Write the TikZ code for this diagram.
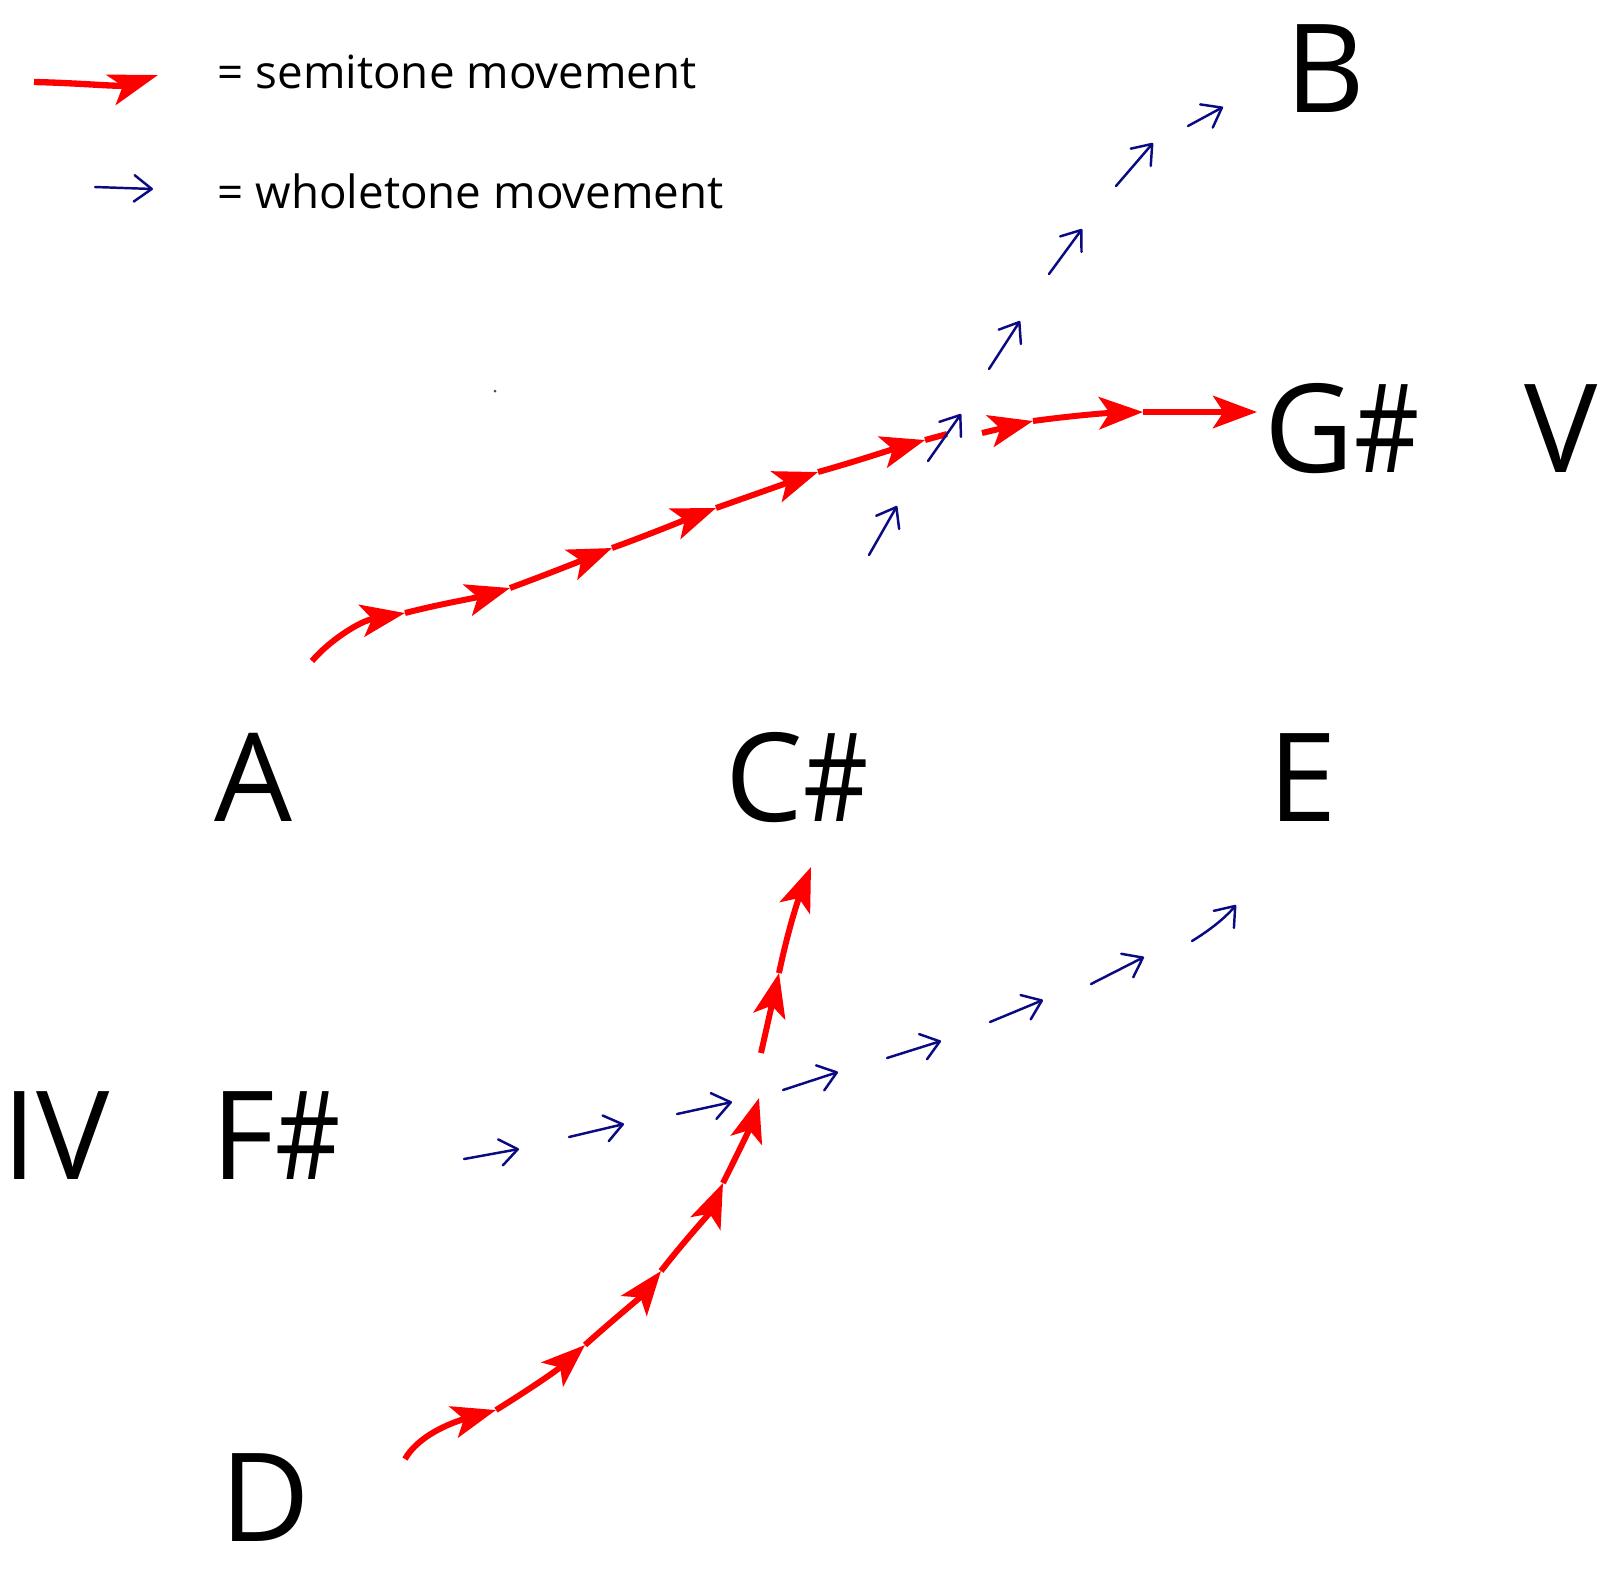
\documentclass[tikz,border=0pt]{standalone}
\usepackage{fontspec}
\setmainfont{Open Sans}
\usetikzlibrary{arrows.meta}
\definecolor{semired}{RGB}{255,0,0}
\definecolor{wholeblue}{RGB}{10,10,130}
\newcommand{\shp}{\scalebox{0.82}[1]{\#}}
\begin{document}
\begin{tikzpicture}[x=0.01cm,y=-0.01cm,
  semi/.style={draw=semired, line width=1.7pt, -{Stealth[length=12.5pt,width=9.2pt,inset=3pt]}},
  semiline/.style={draw=semired, line width=1.7pt},
  whole/.style={draw=wholeblue, line width=0.7pt, line cap=round, -{Straight Barb[length=5pt,width=7.5pt,round]}},
  note/.style={font=\fontsize{35}{40}\selectfont, inner sep=0pt, anchor=base},
  legendtext/.style={font=\fontsize{13}{16}\selectfont, inner sep=0pt, anchor=base west}]
\useasboundingbox[fill=white] (0,0) rectangle (1600,1575);

% note names
\node[note] (B)  at (1325,112) {B};
\node[note] (Gs) at (1342,472) {G\shp};
\node[note] (V)  at (1561,472) {V};
\node[note] (A)  at (253,821)  {A};
\node[note] (Cs) at (797,821)  {C\shp};
\node[note] (E)  at (1303,821) {E};
\node[note] (IV) at (56,1179)  {IV};
\node[note] (Fs) at (276,1179) {F\shp};
\node[note] (D)  at (265,1541) {D};

% legend
\node[legendtext] (lsemi)  at (217,88)  {= semitone movement};
\node[legendtext] (lwhole) at (217,208) {= wholetone movement};
\coordinate (ls0) at (34,82);
\coordinate (ls1) at (158,75);
\draw[semi, line width=1.8pt, -{Stealth[length=14pt,width=9pt,inset=3.5pt]}] (ls0) .. controls (80,83) and (120,87) .. (ls1);
\coordinate (lw0) at (95,187);
\coordinate (lw1) at (153,189);
\draw[whole] (lw0) -- (lw1);

% upper semitone chain (A -> G#)
\coordinate (u0) at (312,661);
\coordinate (u1) at (405,613);
\coordinate (u2) at (510,588);
\coordinate (u3) at (612,548);
\coordinate (u4) at (716,508);
\coordinate (u5) at (818,472);
\coordinate (u6) at (925,440);
\coordinate (u7) at (947,434);
\draw[semi] (u0) .. controls (330,640) and (360,621) .. (u1);
\draw[semi] (u1) .. controls (440,604) and (475,598) .. (u2);
\draw[semi] (u2) .. controls (545,575) and (578,562) .. (u3);
\draw[semi] (u3) .. controls (648,535) and (682,521) .. (u4);
\draw[semi] (u4) .. controls (750,496) and (784,484) .. (u5);
\draw[semi] (u5) .. controls (854,462) and (890,450) .. (u6);
\draw[semiline] (u6) -- (u7);
\coordinate (v0) at (982,433);
\coordinate (v1) at (1033,421);
\coordinate (v2) at (1143,412);
\coordinate (v3) at (1257,412);
\draw[semi] (v0) -- (v1);
\draw[semi] (v1) .. controls (1070,416) and (1105,413) .. (v2);
\draw[semi] (v2) -- (v3);

% lower semitone chain (D -> C#)
\coordinate (w0) at (405,1459);
\coordinate (w1) at (496,1410);
\coordinate (w2) at (585,1345);
\coordinate (w3) at (661,1271);
\coordinate (w4) at (723,1183);
\coordinate (w5) at (759,1098);
\draw[semi] (w0) .. controls (418,1436) and (450,1423) .. (w1);
\draw[semi] (w1) .. controls (525,1392) and (555,1372) .. (w2);
\draw[semi] (w2) .. controls (615,1318) and (640,1298) .. (w3);
\draw[semi] (w3) .. controls (685,1240) and (710,1213) .. (w4);
\draw[semi] (w4) .. controls (738,1153) and (750,1128) .. (w5);
\coordinate (x0) at (761,1053);
\coordinate (x1) at (779,973);
\coordinate (x2) at (811,867);
\draw[semi] (x0) -- (x1);
\draw[semi] (x1) .. controls (788,930) and (798,900) .. (x2);

% upper wholetone chain (towards B)
\coordinate (b1s) at (869,555);  \coordinate (b1e) at (897,506);
\coordinate (b2s) at (928,461);  \coordinate (b2e) at (961,414);
\coordinate (b3s) at (989,369);  \coordinate (b3e) at (1020,321);
\coordinate (b4s) at (1049,274); \coordinate (b4e) at (1082,229);
\coordinate (b5s) at (1116,186); \coordinate (b5e) at (1153,143);
\coordinate (b6s) at (1188,126); \coordinate (b6e) at (1223,107);
\draw[whole] (b1s) -- (b1e);
\draw[whole] (b2s) -- (b2e);
\draw[whole] (b3s) -- (b3e);
\draw[whole] (b4s) -- (b4e);
\draw[whole] (b5s) -- (b5e);
\draw[whole] (b6s) -- (b6e);

% lower wholetone chain (F# -> E)
\coordinate (e1s) at (464,1159);  \coordinate (e1e) at (519,1149);
\coordinate (e2s) at (569,1137);  \coordinate (e2e) at (624,1124);
\coordinate (e3s) at (677,1114);  \coordinate (e3e) at (732,1102);
\coordinate (e4s) at (783,1090);  \coordinate (e4e) at (838,1072);
\coordinate (e5s) at (887,1058);  \coordinate (e5e) at (941,1041);
\coordinate (e6s) at (990,1022);  \coordinate (e6e) at (1043,1000);
\coordinate (e7s) at (1091,984);  \coordinate (e7e) at (1144,957);
\coordinate (e8s) at (1192,941);  \coordinate (e8e) at (1236,905);
\draw[whole] (e1s) -- (e1e);
\draw[whole] (e2s) -- (e2e);
\draw[whole] (e3s) -- (e3e);
\draw[whole] (e4s) -- (e4e);
\draw[whole] (e5s) -- (e5e);
\draw[whole] (e6s) -- (e6e);
\draw[whole] (e7s) -- (e7e);
\draw[whole] (e8s) .. controls (1210,930) and (1225,918) .. (e8e);

% small speck
\fill[black!70] (495,391) circle (1.5);
\end{tikzpicture}
\end{document}
